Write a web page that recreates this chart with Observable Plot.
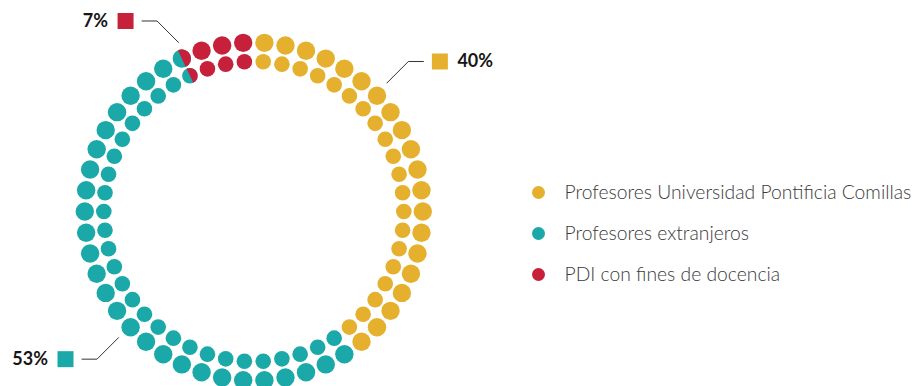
<!DOCTYPE html>
<html><head><meta charset="utf-8">
<script src="https://cdn.jsdelivr.net/npm/d3@7"></script>
<script src="https://cdn.jsdelivr.net/npm/@observablehq/plot@0.6"></script>
<style>
html,body{margin:0;padding:0;background:#fff;}
#chart{width:917px;height:386px;overflow:hidden;}
</style>
</head><body><div id="chart"></div>
<script>
// ---- data ----
const categories = ["Profesores Universidad Pontificia Comillas", "Profesores extranjeros", "PDI con fines de docencia"];
const shares = [40, 53, 7];
const shareLabels = ["40%", "53%", "7%"];
const colors = ["#E5B02E", "#1BA8A8", "#C7203A"];

// ---- layout ----
const W = 917, H = 386, CX = 253.3, CY = 211;
const slots = 50;                       // angular positions per ring
const rings = [{radius: 169, r: 9.2}, {radius: 150, r: 7.8}];
const leaderAngles = [46, 227, 336];    // where each label's leader touches the ring
const lead = {radius: 185, diag: 21.5, horiz: 15, gap: 8.5, square: 16, textGap: 9.5};
const legend = {x: 538, y0: 192, step: 41, r: 6.5, textX: 564};

const total = d3.sum(shares);
const bounds = d3.cumsum(shares).map(v => v / total * 360);
function catAt(a) {
  a = ((a % 360) + 360) % 360;
  const i = bounds.findIndex(b => a < b);
  return categories[i < 0 ? categories.length - 1 : i];
}
const toX = px => px - CX, toY = py => CY - py;

const base = [], halves = [];
for (const ring of rings) {
  for (let k = 0; k < slots; k++) {
    const th = (k + 0.5) * 360 / slots;
    const rad = th * Math.PI / 180;
    const x = ring.radius * Math.sin(rad), y = ring.radius * Math.cos(rad);
    const before = catAt(th - 0.5), after = catAt(th + 0.5);
    base.push({x, y, r: ring.r, cat: before});
    if (after !== before) halves.push({x, y, r: ring.r, cat: after, rotate: th});
  }
}
const halfSymbol = {
  draw(context, size) {
    const r = Math.sqrt(size / Math.PI);
    context.moveTo(0, -r);
    context.arc(0, 0, r, -Math.PI / 2, Math.PI / 2);
    context.closePath();
  }
};

// annotations
const leaders = [], squares = [], pctText = [];
categories.forEach((c, i) => {
  const a = leaderAngles[i] * Math.PI / 180;
  const sx = Math.sin(a) >= 0 ? 1 : -1, sy = Math.cos(a) >= 0 ? -1 : 1;
  const p0 = [CX + lead.radius * Math.sin(a), CY - lead.radius * Math.cos(a)];
  const p1 = [p0[0] + sx * lead.diag, p0[1] + sy * lead.diag];
  const p2 = [p1[0] + sx * lead.horiz, p1[1]];
  [p0, p1, p2].forEach(p => leaders.push({x: toX(p[0]), y: toY(p[1]), cat: c}));
  const sqx = p2[0] + sx * (lead.gap + lead.square / 2);
  squares.push({x: toX(sqx), y: toY(p2[1]), cat: c});
  pctText.push({x: toX(sqx + sx * (lead.square / 2 + lead.textGap)), y: toY(p2[1]), label: shareLabels[i], anchor: sx > 0 ? "start" : "end"});
});
const legendRows = categories.map((c, i) => ({x: toX(legend.x), tx: toX(legend.textX), y: toY(legend.y0 + i * legend.step), cat: c}));

const chart = Plot.plot({
  width: W, height: H, margin: 0,
  x: {domain: [-CX, W - CX], range: [0, W], axis: null},
  y: {domain: [CY - H, CY], range: [H, 0], axis: null},
  r: {type: "identity"},
  color: {domain: categories, range: colors},
  style: {fontFamily: "Lato, 'Open Sans', sans-serif", background: "#fff"},
  marks: [
    Plot.dot(base, {x: "x", y: "y", r: "r", fill: "cat"}),
    Plot.dot(halves, {x: "x", y: "y", r: "r", fill: "cat", rotate: "rotate", symbol: halfSymbol}),
    Plot.line(leaders, {x: "x", y: "y", z: "cat", stroke: "#333", strokeWidth: 1}),
    Plot.dot(squares, {x: "x", y: "y", fill: "cat", symbol: "square", r: lead.square / Math.sqrt(Math.PI)}),
    Plot.text(pctText.filter(d => d.anchor === "start"), {x: "x", y: "y", text: "label", textAnchor: "start", fontSize: 18, fontWeight: "bold", fill: "#161616"}),
    Plot.text(pctText.filter(d => d.anchor === "end"), {x: "x", y: "y", text: "label", textAnchor: "end", fontSize: 18, fontWeight: "bold", fill: "#161616"}),
    Plot.dot(legendRows, {x: "x", y: "y", fill: "cat", r: legend.r}),
    Plot.text(legendRows, {x: "tx", y: "y", text: "cat", textAnchor: "start", fontSize: 19.3, fontWeight: 300, fill: "#3a3a3a"})
  ]
});
document.getElementById("chart").append(chart);
</script>
</body></html>
